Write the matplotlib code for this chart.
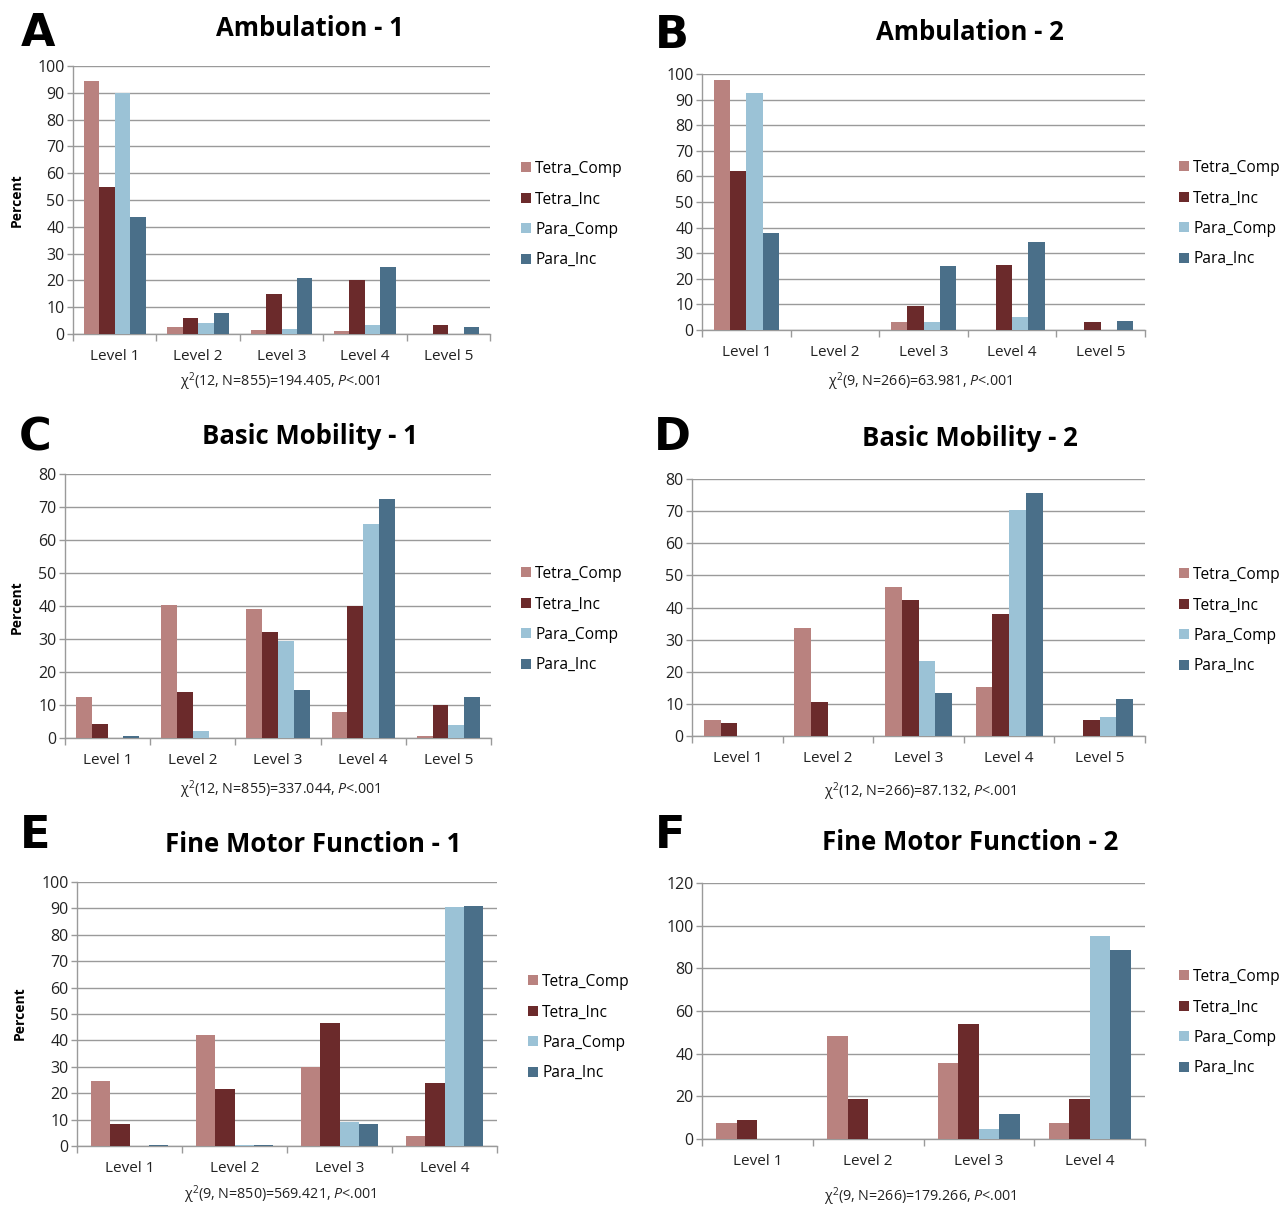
import matplotlib
matplotlib.use("Agg")
import matplotlib.pyplot as plt
import numpy as np

plt.rcParams['font.family'] = ['Open Sans', 'DejaVu Sans']
plt.rcParams['mathtext.fontset'] = 'custom'
plt.rcParams['mathtext.rm'] = 'Open Sans'
plt.rcParams['mathtext.it'] = 'Open Sans:italic'

W, H = 1282, 1207

series = ['Tetra_Comp', 'Tetra_Inc', 'Para_Comp', 'Para_Inc']
colors = ['#B9827F', '#6B2A2B', '#9BC2D6', '#4A6F89']

levels5 = ['Level 1', 'Level 2', 'Level 3', 'Level 4', 'Level 5']
levels4 = ['Level 1', 'Level 2', 'Level 3', 'Level 4']

# values per series, one entry per level
amb1 = [[94.5, 2.5, 1.5, 1.0, 0.0],
        [55.0, 6.0, 15.0, 20.0, 3.5],
        [90.0, 4.0, 2.0, 3.5, 0.0],
        [43.5, 8.0, 21.0, 25.0, 2.5]]
amb2 = [[97.5, 0.0, 3.0, 0.0, 0.0],
        [62.0, 0.0, 9.5, 25.5, 3.0],
        [92.5, 0.0, 3.0, 5.0, 0.0],
        [38.0, 0.0, 25.0, 34.5, 3.5]]
mob1 = [[12.3, 40.3, 39.0, 8.0, 0.5],
        [4.3, 14.0, 32.2, 40.0, 10.0],
        [0.0, 2.0, 29.4, 65.0, 4.0],
        [0.5, 0.0, 14.6, 72.3, 12.3]]
mob2 = [[5.0, 33.5, 46.3, 15.4, 0.0],
        [4.0, 10.7, 42.2, 38.1, 5.0],
        [0.0, 0.0, 23.4, 70.4, 6.0],
        [0.0, 0.0, 13.3, 75.6, 11.5]]
fine1 = [[24.7, 42.0, 30.0, 3.6],
         [8.3, 21.7, 46.5, 23.8],
         [0.0, 0.3, 9.0, 90.7],
         [0.5, 0.4, 8.3, 91.0]]
fine2 = [[7.5, 48.5, 35.8, 7.5],
         [8.8, 18.8, 54.0, 18.8],
         [0.0, 0.0, 4.5, 95.3],
         [0.0, 0.0, 11.7, 88.8]]

titles = ['Ambulation - 1', 'Ambulation - 2', 'Basic Mobility - 1',
          'Basic Mobility - 2', 'Fine Motor Function - 1', 'Fine Motor Function - 2']
letters = ['A', 'B', 'C', 'D', 'E', 'F']
stats = [r'χ$^2$(12, N=855)=194.405, $\it{P}$<.001',
         r'χ$^2$(9, N=266)=63.981, $\it{P}$<.001',
         r'χ$^2$(12, N=855)=337.044, $\it{P}$<.001',
         r'χ$^2$(12, N=266)=87.132, $\it{P}$<.001',
         r'χ$^2$(9, N=850)=569.421, $\it{P}$<.001',
         r'χ$^2$(9, N=266)=179.266, $\it{P}$<.001']

# pixel layout: (left, right, top, bottom, ymax, ystep)
panels = [
    (amb1, levels5, 73, 490, 66, 334, 100, 10),
    (amb2, levels5, 702, 1145, 74, 330, 100, 10),
    (mob1, levels5, 65, 491, 474, 738, 80, 10),
    (mob2, levels5, 692, 1145, 479, 736, 80, 10),
    (fine1, levels4, 77, 497, 882, 1146, 100, 10),
    (fine2, levels4, 702, 1145, 883, 1139, 120, 20),
]
title_pos = [(310, 29), (970, 33), (310, 437), (970, 439), (313, 844), (970, 843)]
letter_pos = [(38, 33), (672, 35), (35, 438), (672, 438), (35, 835), (670, 835)]
stat_pos = [(280, 382), (920, 382), (280, 790), (920, 792), (280, 1195), (920, 1197)]
legend_pos = [(510, 150), (1168, 149), (510, 555), (1168, 556), (517, 963), (1168, 958)]
ylabel_pos = [(17, 200), None, (17, 607), None, (20, 1013), None]

fig = plt.figure(figsize=(W / 100, H / 100), dpi=100)
grid_c = '#9A9A9A'

for i, (data, cats, l, r, t, b, ymax, ystep) in enumerate(panels):
    ax = fig.add_axes([l / W, 1 - b / H, (r - l) / W, (b - t) / H])
    n = len(cats)
    x = np.arange(n)
    bw = 0.185
    for k in range(4):
        ax.bar(x + (k - 1.5) * bw, data[k], bw, color=colors[k], label=series[k], zorder=3)
    ax.set_xlim(-0.5, n - 0.5)
    ax.set_ylim(0, ymax)
    ax.set_yticks(np.arange(0, ymax + 1, ystep))
    ax.yaxis.grid(True, color=grid_c, lw=1.0, zorder=0)
    ax.set_axisbelow(True)
    for s in ['top', 'right']:
        ax.spines[s].set_visible(False)
    for s in ['left', 'bottom']:
        ax.spines[s].set_color(grid_c)
        ax.spines[s].set_linewidth(1.0)
    ax.set_xticks(x)
    ax.set_xticklabels(cats, fontsize=11, color='#222222')
    ax.set_xticks(np.arange(-0.5, n, 1.0), minor=True)
    ax.tick_params(axis='x', which='major', length=0, pad=11)
    ax.tick_params(axis='x', which='minor', length=5, color=grid_c, width=1)
    ax.tick_params(axis='y', length=4, color=grid_c, width=1, labelsize=11.5,
                   labelcolor='#222222', pad=2)
    ax.legend(loc='upper left', bbox_to_anchor=(legend_pos[i][0] / W, 1 - legend_pos[i][1] / H),
              bbox_transform=fig.transFigure, frameon=False, fontsize=11.2,
              handlelength=0.62, handleheight=0.62, handletextpad=0.3,
              labelspacing=0.93, borderpad=0.2)

    fig.text(title_pos[i][0] / W, 1 - title_pos[i][1] / H, titles[i], fontsize=18.5,
             fontweight='bold', ha='center', va='center')
    fig.text(letter_pos[i][0] / W, 1 - letter_pos[i][1] / H, letters[i], fontsize=32,
             fontweight='bold', ha='center', va='center', family='DejaVu Sans')
    fig.text(stat_pos[i][0] / W, 1 - stat_pos[i][1] / H, stats[i], fontsize=10.3,
             ha='center', va='center', color='#222222')
    if ylabel_pos[i] is not None:
        fig.text(ylabel_pos[i][0] / W, 1 - ylabel_pos[i][1] / H, 'Percent', fontsize=10,
                 fontweight='bold', rotation=90, ha='center', va='center')

fig.savefig('out.png', dpi=100)
